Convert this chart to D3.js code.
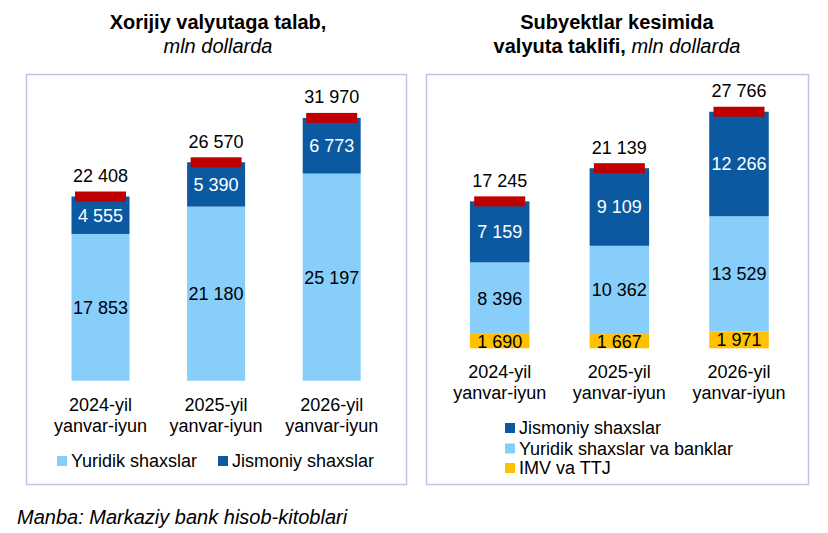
<!DOCTYPE html>
<html>
<head>
<meta charset="utf-8">
<script src="https://cdn.jsdelivr.net/npm/d3@7"></script>
<style>
  body { margin: 0; background: #fff; }
  svg { font-family: "Liberation Sans", Arial, sans-serif; }
</style>
</head>
<body>
<div id="chart"></div>
<script>
const categories = ["2024-yil|yanvar-iyun", "2025-yil|yanvar-iyun", "2026-yil|yanvar-iyun"];

// left panel: demand
const demandLegal = [17853, 21180, 25197];
const demandPersons = [4555, 5390, 6773];
const demandTotal = [22408, 26570, 31970];

// right panel: supply
const supplyImv = [1690, 1667, 1971];
const supplyLegal = [8396, 10362, 13529];
const supplyPersons = [7159, 9109, 12266];
const supplyTotal = [17245, 21139, 27766];

const lightBlue = "#87cefa";
const darkBlue = "#0b5aa1";
const red = "#c00000";
const yellow = "#ffc000";
const fs = 18;
const fmt = (v) => d3.format(",")(v).replace(/,/g, " ");

var svg = d3.select("#chart").append("svg")
  .attr("width", 828)
  .attr("height", 533);

// panel boxes
svg.append("rect").attr("x", 26.5).attr("y", 74.5).attr("width", 380).attr("height", 410)
  .attr("fill", "none").attr("stroke", "#bcc6e2").attr("stroke-width", 1.5);
svg.append("rect").attr("x", 426.5).attr("y", 74.5).attr("width", 382).attr("height", 410)
  .attr("fill", "none").attr("stroke", "#bcc6e2").attr("stroke-width", 1.5);

// titles
svg.append("text").attr("x", 218).attr("y", 29).attr("text-anchor", "middle")
  .attr("font-size", 20).attr("font-weight", "bold").text("Xorijiy valyutaga talab,");
svg.append("text").attr("x", 218).attr("y", 53).attr("text-anchor", "middle")
  .attr("font-size", 20).attr("font-style", "italic").text("mln dollarda");
svg.append("text").attr("x", 617).attr("y", 29).attr("text-anchor", "middle")
  .attr("font-size", 20).attr("font-weight", "bold").text("Subyektlar kesimida");
var t2 = svg.append("text").attr("x", 617).attr("y", 53).attr("text-anchor", "middle")
  .attr("font-size", 20);
t2.append("tspan").attr("font-weight", "bold").text("valyuta taklifi, ");
t2.append("tspan").attr("font-style", "italic").text("mln dollarda");

svg.append("text").attr("x", 17).attr("y", 524).attr("font-size", 20)
  .attr("font-style", "italic").text("Manba: Markaziy bank hisob-kitoblari");

function drawPanel(cfg) {
  const x = d3.scalePoint().domain(categories).range(cfg.xRange);
  const y = d3.scaleLinear().domain([0, cfg.yMax]).range(cfg.yRange);
  const stack = d3.stack().keys(cfg.series.map((s) => s.key))(
    categories.map((c, i) => {
      const row = { cat: c };
      cfg.series.forEach((s) => (row[s.key] = s.values[i]));
      return row;
    })
  );
  const g = svg.append("g");

  stack.forEach((layer, li) => {
    const s = cfg.series[li];
    g.selectAll(null).data(layer).enter().append("rect")
      .attr("x", (d) => x(d.data.cat) - cfg.barW / 2)
      .attr("y", (d) => y(d[1]))
      .attr("width", cfg.barW)
      .attr("height", (d) => y(d[0]) - y(d[1]))
      .attr("fill", s.color);
    g.selectAll(null).data(layer).enter().append("text")
      .attr("x", (d) => x(d.data.cat))
      .attr("y", (d) => (y(d[0]) + y(d[1])) / 2)
      .attr("dy", "0.36em")
      .attr("text-anchor", "middle")
      .attr("font-size", fs)
      .attr("fill", s.textColor)
      .text((d, i) => fmt(s.values[i]));
  });

  // red total markers
  g.selectAll(null).data(cfg.totals).enter().append("rect")
    .attr("x", (d, i) => x(categories[i]) - 25.5)
    .attr("y", (d) => y(d) - 5)
    .attr("width", 51)
    .attr("height", 10)
    .attr("fill", red);
  g.selectAll(null).data(cfg.totals).enter().append("text")
    .attr("x", (d, i) => x(categories[i]))
    .attr("y", (d) => y(d) - 21)
    .attr("dy", "0.36em")
    .attr("text-anchor", "middle")
    .attr("font-size", fs)
    .text((d) => fmt(d));

  // category labels
  const cl = g.selectAll(null).data(categories).enter().append("text")
    .attr("x", (d) => x(d))
    .attr("y", cfg.catY)
    .attr("text-anchor", "middle")
    .attr("font-size", fs);
  cl.append("tspan").attr("x", (d) => x(d)).text((d) => d.split("|")[0]);
  cl.append("tspan").attr("x", (d) => x(d)).attr("dy", 21).text((d) => d.split("|")[1]);

  // legend
  cfg.legend.forEach((l) => {
    g.append("rect").attr("x", l.x).attr("y", l.y - 5).attr("width", 10).attr("height", 10)
      .attr("fill", l.color);
    g.append("text").attr("x", l.x + 14).attr("y", l.y).attr("dy", "0.36em")
      .attr("font-size", fs).text(l.label);
  });
}

drawPanel({
  xRange: [100.5, 331.7],
  barW: 58,
  yMax: 32000,
  yRange: [380.7, 380.7 - 32000 * 0.00822],
  series: [
    { key: "legal", values: demandLegal, color: lightBlue, textColor: "#000" },
    { key: "persons", values: demandPersons, color: darkBlue, textColor: "#fff" },
  ],
  totals: demandTotal,
  catY: 410.5,
  legend: [
    { x: 57, y: 461, color: lightBlue, label: "Yuridik shaxslar" },
    { x: 218, y: 461, color: darkBlue, label: "Jismoniy shaxslar" },
  ],
});

drawPanel({
  xRange: [499.7, 739],
  barW: 59.5,
  yMax: 28000,
  yRange: [348.3, 348.3 - 28000 * 0.00852],
  series: [
    { key: "imv", values: supplyImv, color: yellow, textColor: "#000" },
    { key: "legal", values: supplyLegal, color: lightBlue, textColor: "#000" },
    { key: "persons", values: supplyPersons, color: darkBlue, textColor: "#fff" },
  ],
  totals: supplyTotal,
  catY: 377.5,
  legend: [
    { x: 505, y: 428, color: darkBlue, label: "Jismoniy shaxslar" },
    { x: 505, y: 448.5, color: lightBlue, label: "Yuridik shaxslar va banklar" },
    { x: 505, y: 468, color: yellow, label: "IMV va TTJ" },
  ],
});
</script>
</body>
</html>
